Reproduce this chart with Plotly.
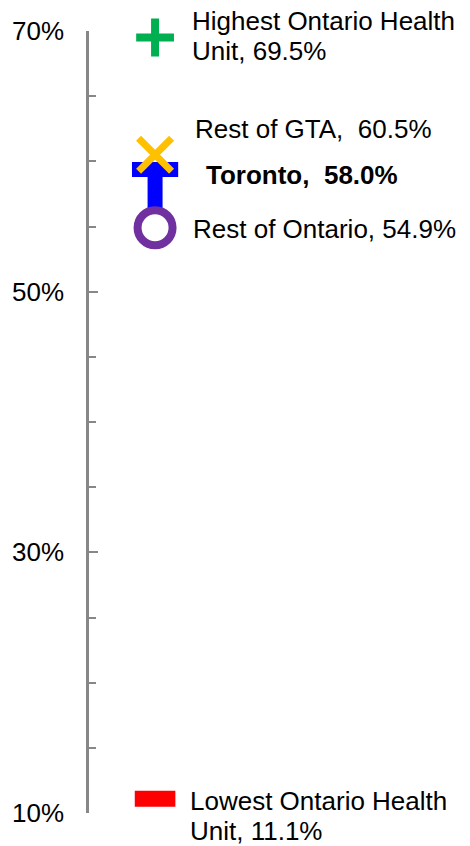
import plotly.graph_objects as go

# Share of population (%) by region
regions = ["Highest Ontario Health Unit", "Rest of GTA", "Toronto",
           "Rest of Ontario", "Lowest Ontario Health Unit"]
shares = [69.5, 60.5, 58.0, 54.9, 11.1]
y_ticks = [10, 30, 50, 70]

FONT = "Liberation Sans, Arial, sans-serif"
GREY = "#878787"
CAT = "Ontario"

fig = go.Figure()

def marker_trace(i, **marker):
    fig.add_trace(go.Scatter(
        x=[CAT], y=[shares[i]], mode="markers", name=regions[i],
        marker=marker, hoverinfo="skip", showlegend=False, cliponaxis=False,
    ))

# Toronto: a blue "T" built from a stem and a raised cross-bar
marker_trace(2, symbol="line-ns", size=35, color="#0000FF",
             line=dict(color="#0000FF", width=15))
marker_trace(2, symbol="line-ew", size=33, color="#0000FF", angle=180, standoff=18,
             line=dict(color="#0000FF", width=15))
# Rest of Ontario: white-filled purple ring
marker_trace(3, symbol="circle", size=35, color="white",
             line=dict(color="#7030A0", width=8))
# Rest of GTA: amber cross
marker_trace(1, symbol="x-thin", size=33, color="#FFC000",
             line=dict(color="#FFC000", width=7))
# Highest health unit: green plus
marker_trace(0, symbol="cross-thin", size=27, color="#00B050",
             line=dict(color="#00B050", width=8))
# Lowest health unit: red dash
marker_trace(4, symbol="line-ew", size=29, color="#FF0000",
             line=dict(color="#FF0000", width=16))

# Label layout: words on first line (None = single line), separator, offsets
label_style = [
    dict(split=3, sep=" ", dx=35, dy=[17, -13], bold=False),
    dict(split=None, sep="  ", dx=38, dy=[26], bold=False),
    dict(split=None, sep="  ", dx=49, dy=[12], bold=True),
    dict(split=None, sep=" ", dx=36, dy=[-1], bold=False),
    dict(split=3, sep=" ", dx=33, dy=[-2, -32], bold=False),
]

for name, val, st in zip(regions, shares, label_style):
    words = name.split(" ")
    tail = f",{st['sep']}{val:.1f}%"
    if st["split"]:
        lines = [" ".join(words[:st["split"]]), " ".join(words[st["split"]:]) + tail]
    else:
        lines = [name + tail]
    for line, dy in zip(lines, st["dy"]):
        txt = f"<b>{line}</b>" if st["bold"] else line
        fig.add_annotation(
            x=CAT, y=val, text=txt, showarrow=False,
            xanchor="left", yanchor="middle", xshift=st["dx"], yshift=dy,
            font=dict(family=FONT, size=26, color="black"),
        )

fig.update_layout(
    width=470, height=846,
    margin=dict(l=89, r=0, t=31, b=33),
    paper_bgcolor="white", plot_bgcolor="white",
    xaxis=dict(visible=False, type="category", range=[-0.3, 1.43]),
    yaxis=dict(
        range=[10, 70], tickvals=y_ticks, ticktext=[f"{v}%" for v in y_ticks],
        ticks="inside", ticklen=9, tickwidth=2, tickcolor=GREY,
        showline=True, linecolor=GREY, linewidth=2.5,
        showgrid=False, zeroline=False,
        tickfont=dict(family=FONT, size=26, color="black"),
        ticklabelstandoff=17,
        minor=dict(tick0=10, dtick=5, ticks="inside", ticklen=7, tickwidth=2,
                   tickcolor=GREY, showgrid=False),
    ),
)

fig.write_html("out.html")
